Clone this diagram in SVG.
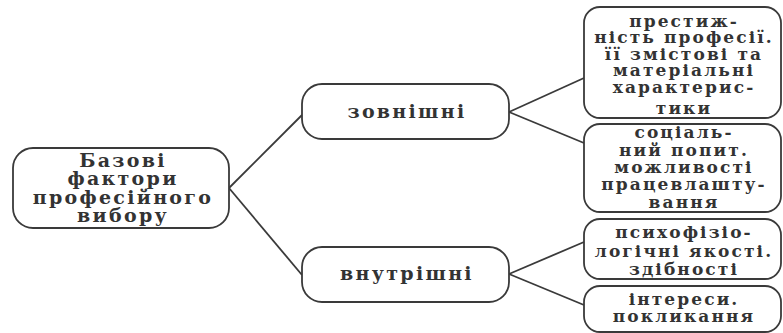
<svg xmlns="http://www.w3.org/2000/svg" width="783" height="333" viewBox="0 0 783 333">
<style>
.box{fill:#fff;stroke:#3a3a3a;stroke-width:1.8}
.ln{fill:none;stroke:#3a3a3a;stroke-width:1.8}
text{font-family:"DejaVu Serif","Liberation Serif",serif;font-weight:bold;fill:#333;text-anchor:middle}
.big{font-size:19px;letter-spacing:2.3px}
.sm{font-size:17px;letter-spacing:2.1px}
</style>
<rect width="783" height="333" fill="#fff"/>
<g id="connectors">
<path class="ln" d="M229,188 L302,115"/>
<path class="ln" d="M229,188 L302,275"/>
<path class="ln" d="M509,112 L584,78"/>
<path class="ln" d="M509,112 L584,143"/>
<path class="ln" d="M509,274 L584,242"/>
<path class="ln" d="M509,274 L584,305"/>
</g>
<g id="root">
<rect class="box" x="13" y="148" width="216" height="80" rx="20"/>
<text class="big" x="123" y="167">Базові</text>
<text class="big" x="123" y="185">фактори</text>
<text class="big" x="123" y="204">професійного</text>
<text class="big" x="123" y="222">вибору</text>
</g>
<g id="external">
<rect class="box" x="302" y="84" width="207" height="55" rx="20"/>
<text class="big" x="407" y="118">зовнішні</text>
</g>
<g id="internal">
<rect class="box" x="302" y="247" width="207" height="55" rx="20"/>
<text class="big" x="407" y="280">внутрішні</text>
</g>
<g id="prestige">
<rect class="box" x="584" y="7" width="197" height="111" rx="16"/>
<text class="sm" x="684" y="27">престиж-</text>
<text class="sm" x="684" y="43">ність професії.</text>
<text class="sm" x="684" y="60">її змістові та</text>
<text class="sm" x="684" y="76">матеріальні</text>
<text class="sm" x="684" y="93">характерис-</text>
<text class="sm" x="684" y="114">тики</text>
</g>
<g id="demand">
<rect class="box" x="584" y="124" width="197" height="88" rx="16"/>
<text class="sm" x="684" y="138">соціаль-</text>
<text class="sm" x="684" y="156">ний попит.</text>
<text class="sm" x="684" y="173">можливості</text>
<text class="sm" x="684" y="190">працевлашту-</text>
<text class="sm" x="684" y="208">вання</text>
</g>
<g id="psycho">
<rect class="box" x="584" y="219" width="197" height="60" rx="16"/>
<text class="sm" x="684" y="238">психофізіо-</text>
<text class="sm" x="684" y="257">логічні якості.</text>
<text class="sm" x="684" y="275">здібності</text>
</g>
<g id="interests">
<rect class="box" x="584" y="286" width="197" height="46" rx="16"/>
<text class="sm" x="684" y="305">інтереси.</text>
<text class="sm" x="684" y="322">покликання</text>
</g>
</svg>
